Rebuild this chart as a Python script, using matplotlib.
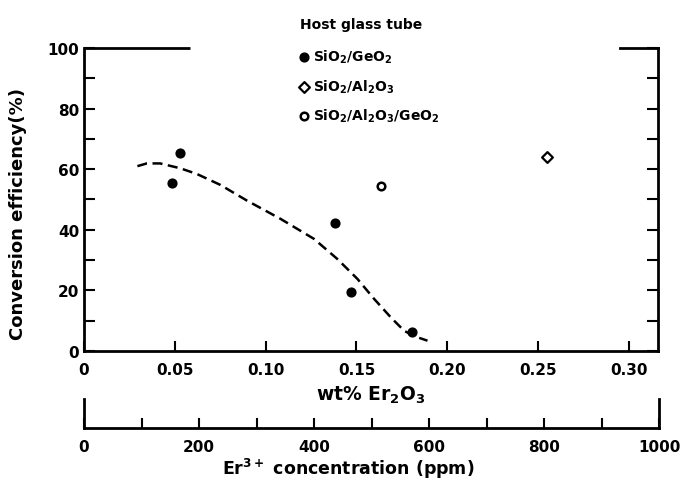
import matplotlib
matplotlib.use("Agg")
import matplotlib.pyplot as plt
from matplotlib.ticker import MultipleLocator

plt.rcParams['font.family'] = ['DejaVu Sans']
plt.rcParams['font.weight'] = 'bold'
plt.rcParams['axes.labelweight'] = 'bold'
plt.rcParams['mathtext.default'] = 'regular'
plt.rcParams['font.size'] = 11

# SiO2/GeO2 host (filled circles)
geo_x = [0.0484, 0.0528, 0.138, 0.1472, 0.1803]
geo_y = [55.3, 65.4, 42.2, 19.6, 6.2]
# SiO2/Al2O3 host (diamond)
al_x = [0.255]
al_y = [64.0]
# SiO2/Al2O3/GeO2 host (open circle)
algeo_x = [0.1634]
algeo_y = [54.4]

# dashed trend curve
curve_x = [0.0294, 0.0346, 0.0419, 0.0530, 0.0622, 0.0751, 0.0898, 0.1082,
           0.1266, 0.1394, 0.1505, 0.1597, 0.1689, 0.1762, 0.1817, 0.1891]
curve_y = [61.0, 61.9, 61.9, 60.3, 58.4, 54.8, 49.6, 43.6,
           37.0, 30.4, 23.8, 17.2, 11.1, 6.7, 4.9, 3.4]

wt_ticks = [0, 0.05, 0.10, 0.15, 0.20, 0.25, 0.30]
wt_labels = ['0', '0.05', '0.10', '0.15', '0.20', '0.25', '0.30']
ppm_ticks = [0, 200, 400, 600, 800, 1000]
legend_labels = ['SiO$_2$/GeO$_2$', 'SiO$_2$/Al$_2$O$_3$',
                 'SiO$_2$/Al$_2$O$_3$/GeO$_2$']

fig = plt.figure(figsize=(6.88, 4.81), dpi=100)
ax = fig.add_axes([0.1221, 0.2682, 0.8343, 0.630])

ax.plot(curve_x, curve_y, color='black', lw=1.8, linestyle=(0, (4, 2.2)))
h1 = ax.scatter(geo_x, geo_y, s=40, color='black', zorder=3)
h2 = ax.scatter(al_x, al_y, s=30, marker='D', facecolor='white',
                edgecolor='black', linewidths=1.6, zorder=3)
h3 = ax.scatter(algeo_x, algeo_y, s=30, marker='o', facecolor='white',
                edgecolor='black', linewidths=1.8, zorder=3)

ax.set_xlim(0, 0.316)
ax.set_ylim(0, 100)
ax.set_xticks(wt_ticks)
ax.set_xticklabels(wt_labels)
ax.yaxis.set_major_locator(MultipleLocator(20))
ax.yaxis.set_minor_locator(MultipleLocator(10))
ax.tick_params(axis='y', which='both', direction='in', length=8, width=1.5,
               right=True, labelright=False)
ax.tick_params(axis='x', direction='in', length=7, width=1.5, pad=8)
for s in ['left', 'right', 'bottom', 'top']:
    ax.spines[s].set_linewidth(2)
# top spine only drawn at both ends (gap for the legend)
ax.spines['top'].set_bounds(0.295, 0.316)
ax.plot([0, 0.0585], [100, 100], color='black', lw=2, clip_on=False,
        solid_capstyle='butt')

ax.set_ylabel('Conversion efficiency(%)', fontsize=13)
ax.yaxis.set_label_coords(-0.099, 0.457)
ax.set_xlabel('wt% Er$_2$O$_3$', fontsize=13.5, labelpad=5)

fig.text(0.436, 0.948, 'Host glass tube', fontsize=10, fontweight='bold',
         va='center', ha='left')
leg = ax.legend([h1, h2, h3], legend_labels, frameon=False,
                loc='upper left', bbox_to_anchor=(0.436, 0.898),
                bbox_transform=fig.transFigure, scatterpoints=1,
                handlelength=0.6, handletextpad=0.35, labelspacing=0.85,
                borderpad=0, borderaxespad=0, fontsize=10)

# second concentration scale
ax2 = fig.add_axes([0.1221, 0.108, 0.8358, 0.060])
ax2.set_xlim(0, 1000)
ax2.set_ylim(0, 1)
ax2.set_yticks([])
ax2.set_xticks(ppm_ticks)
ax2.xaxis.set_minor_locator(MultipleLocator(100))
ax2.tick_params(axis='x', which='both', direction='in', length=7, width=1.5, pad=8)
ax2.spines['top'].set_visible(False)
for s in ['left', 'right', 'bottom']:
    ax2.spines[s].set_linewidth(2)
ax2.patch.set_alpha(0)
ax2.set_xlabel('Er$^{3+}$ concentration (ppm)', fontsize=12.5)
ax2.xaxis.set_label_coords(0.459, -0.97)

fig.savefig('out.png', dpi=100)
